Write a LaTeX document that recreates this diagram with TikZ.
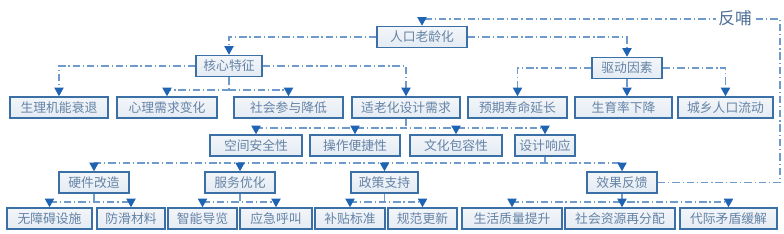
\documentclass[tikz,border=0pt]{standalone}
\usepackage{fontspec}
\usepackage{xcolor}
\usepackage{tikz}
\usetikzlibrary{arrows.meta}
\newfontfamily\cjk{Noto Sans CJK SC}
\definecolor{cBox}{HTML}{3B70A6}
\definecolor{cFill}{HTML}{E4EBF3}
\definecolor{cTxt}{HTML}{6583A6}
\definecolor{cLink}{HTML}{6E9BCB}
\definecolor{cArr}{HTML}{1F63B3}
\definecolor{cLbl}{HTML}{4E6F96}

\begin{document}
\begin{tikzpicture}[x=0.75pt, y=-0.75pt,
  box/.style={rectangle, draw=cBox, line width=1.3pt, top color=cFill!45,
     bottom color=cFill, text=cTxt,
     minimum width=0.75pt*#1, minimum height=15.6pt, inner sep=0pt,
     font=\cjk\fontsize{9.6}{11}\selectfont},
  link/.style={draw=cLink, line width=0.9pt,
     dash pattern=on 5.5pt off 2.2pt on 0.9pt off 2.2pt},
  arr/.style={link, -{Triangle[length=6.5pt, width=7pt, color=cArr]}},
]
\useasboundingbox (0,0) rectangle (784,234);

% =================== TOP LEVEL ===================
\node[box=90] (aging) at (422,37) {人口老龄化};
\node[box=66] (core)  at (229,66) {核心特征};
\node[box=70] (drive) at (627,68) {驱动因素};

% =================== FEATURES / DRIVERS ===================
\node[box=98]  (phys)  at (59,107.5)    {生理机能衰退};
\node[box=100] (psy)   at (167,107.5)   {心理需求变化};
\node[box=109] (soc)   at (288.5,107.5) {社会参与降低};
\node[box=108] (need)  at (406,107.5)   {适老化设计需求};
\node[box=99]  (life)  at (517.5,107.5) {预期寿命延长};
\node[box=97]  (birth) at (623.5,107.5) {生育率下降};
\node[box=95]  (migr)  at (725.5,107.5) {城乡人口流动};

% =================== DESIGN NEEDS ===================
\node[box=92] (space) at (256,145.5) {空间安全性};
\node[box=90] (oper)  at (355,145.5) {操作便捷性};
\node[box=92] (cult)  at (456,145.5) {文化包容性};
\node[box=60] (resp)  at (545,145.5) {设计响应};

% =================== RESPONSES ===================
\node[box=70] (hw)  at (94,182.5)    {硬件改造};
\node[box=70] (svc) at (240,182.5)   {服务优化};
\node[box=67] (pol) at (384.5,182.5) {政策支持};
\node[box=70] (fb)  at (622,182.5)   {效果反馈};

\node[box=85]  (barr)  at (49.5,218.5)  {无障碍设施};
\node[box=68]  (slip)  at (131,218.5)   {防滑材料};
\node[box=69]  (guide) at (202.5,218.5) {智能导览};
\node[box=72]  (call)  at (276,218.5)   {应急呼叫};
\node[box=70]  (subs)  at (350,218.5)   {补贴标准};
\node[box=69]  (norm)  at (422.5,218.5) {规范更新};
\node[box=100] (qual)  at (512,218.5)   {生活质量提升};
\node[box=110] (redis) at (620,218.5)   {社会资源再分配};
\node[box=97]  (gen)   at (728.5,218.5) {代际矛盾缓解};

% bus heights
\coordinate (b1) at (0,90);
\coordinate (b2) at (0,128);
\coordinate (b3) at (0,163);
\coordinate (b4) at (0,202);

% =================== CONNECTORS ===================
\draw[arr] (aging.west) -| (core.north);
\draw[arr] (aging.east) -| (drive.north);

\draw[arr] (core.west) -| (phys.north);
\draw[arr] (core.east) -| (need.north);
\draw[link] (core.south) -- (core.south |- b1);
\draw[arr] (core.south |- b1) -| (psy.north);
\draw[arr] (core.south |- b1) -| (soc.north);

\draw[arr] (drive.west) -| (life.north);
\draw[arr] (drive.east) -| (migr.north);
\draw[arr] (drive.south) -- (drive.south |- birth.north);

\draw[link] (need.south) -- (need.south |- b2);
\draw[link] (space.north |- b2) -- (resp.north |- b2);
\foreach \n in {space,oper,cult,resp}
  \draw[arr] (\n.north |- b2) -- (\n.north);

\draw[link] (resp.south) -- (resp.south |- b3);
\draw[link] (hw.north |- b3) -- (fb.north |- b3);
\foreach \n in {hw,svc,pol,fb}
  \draw[arr] (\n.north |- b3) -- (\n.north);

\foreach \p/\a/\b in {hw/barr/slip, svc/guide/call, pol/subs/norm, fb/qual/gen} {
  \draw[link] (\p.south) -- (\p.south |- b4);
  \draw[link] (\a.north |- b4) -- (\b.north |- b4);
  \draw[arr] (\a.north |- b4) -- (\a.north);
  \draw[arr] (\b.north |- b4) -- (\b.north);
}
\draw[arr] (fb.south) -- (fb.south |- redis.north);

% feedback loop
\coordinate (ft) at (780,19);
\draw[arr] (fb.east) -| (ft) -- (aging.north |- ft) -- (aging.north);
\node[fill=white, text=cLbl, inner sep=1.5pt, font=\cjk\fontsize{12.5}{14}\selectfont]
  (fbl) at (735,18) {反哺};

\end{tikzpicture}
\end{document}
